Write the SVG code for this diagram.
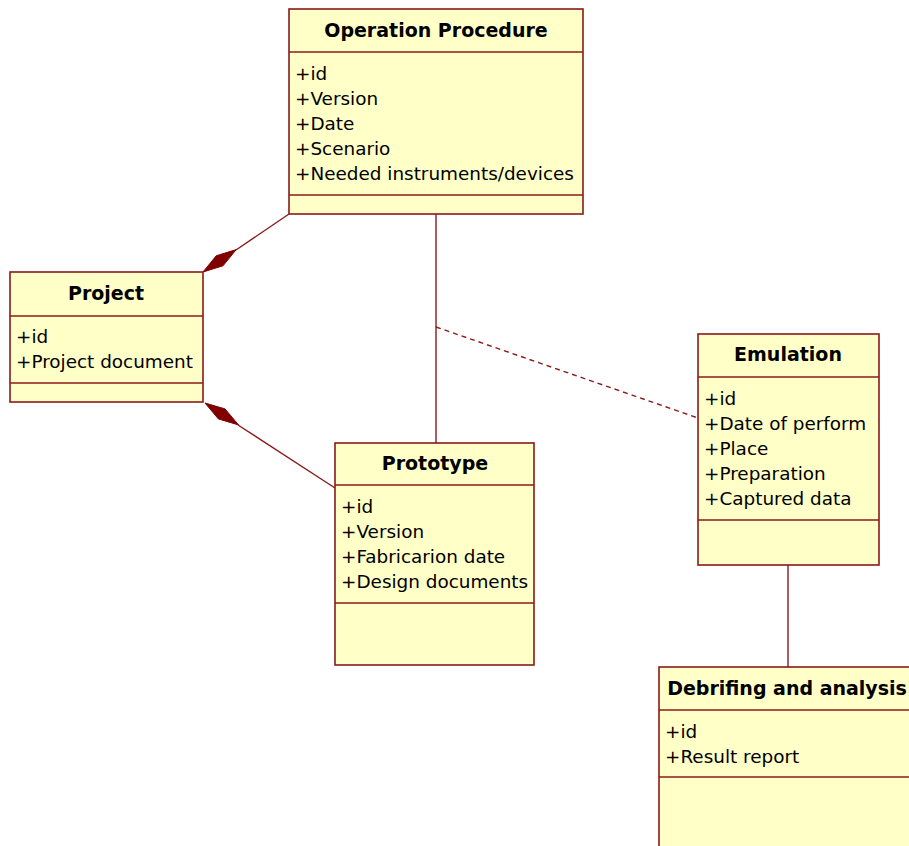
<svg xmlns="http://www.w3.org/2000/svg" width="909" height="846" viewBox="0 0 909 846">
<style>
.box{fill:#FFFFC8;stroke:#8B1A1A;stroke-width:1.6}
.sep{stroke:#8B1A1A;stroke-width:1.6}
.t{font-family:"DejaVu Sans",Verdana,sans-serif;font-size:19px;font-weight:bold;fill:#000;text-anchor:middle}
.a{font-family:"DejaVu Sans",Verdana,sans-serif;font-size:18.4px;fill:#000}
.ln{stroke:#8B1A1A;stroke-width:1.4;fill:none}
.dash{stroke:#8B1A1A;stroke-width:1.4;fill:none;stroke-dasharray:5 4}
.dia{fill:#800000;stroke:#800000;stroke-width:1}
</style>
<rect width="909" height="846" fill="#fff"/>
<g id="connectors">
<line class="ln" x1="236" y1="250" x2="289" y2="214"/>
<polygon class="dia" points="203,272 223,265.8 236.2,249.6 216.2,255.8"/>
<line class="ln" x1="238" y1="425" x2="335" y2="488"/>
<polygon class="dia" points="205,403 225,408.9 238.5,424.9 218.4,418.9"/>
<line class="ln" x1="436" y1="214" x2="436" y2="443"/>
<line class="dash" x1="436" y1="327" x2="698" y2="418"/>
<line class="ln" x1="788" y1="565" x2="788" y2="667"/>
</g>
<g id="operation-procedure">
<rect class="box" x="289" y="9" width="294" height="205"/>
<line class="sep" x1="289" y1="52" x2="583" y2="52"/>
<line class="sep" x1="289" y1="195" x2="583" y2="195"/>
<text class="t" x="436" y="37">Operation Procedure</text>
<text class="a" x="295" y="80">+id</text>
<text class="a" x="295" y="105">+Version</text>
<text class="a" x="295" y="130">+Date</text>
<text class="a" x="295" y="155">+Scenario</text>
<text class="a" x="295" y="180">+Needed instruments/devices</text>
</g>
<g id="project">
<rect class="box" x="10" y="272" width="193" height="130"/>
<line class="sep" x1="10" y1="316" x2="203" y2="316"/>
<line class="sep" x1="10" y1="383" x2="203" y2="383"/>
<text class="t" x="106" y="300">Project</text>
<text class="a" x="16" y="343">+id</text>
<text class="a" x="16" y="368">+Project document</text>
</g>
<g id="prototype">
<rect class="box" x="335" y="443" width="199" height="222"/>
<line class="sep" x1="335" y1="485" x2="534" y2="485"/>
<line class="sep" x1="335" y1="603" x2="534" y2="603"/>
<text class="t" x="435" y="470">Prototype</text>
<text class="a" x="341" y="513">+id</text>
<text class="a" x="341" y="538">+Version</text>
<text class="a" x="341" y="563">+Fabricarion date</text>
<text class="a" x="341" y="588">+Design documents</text>
</g>
<g id="emulation">
<rect class="box" x="698" y="334" width="181" height="231"/>
<line class="sep" x1="698" y1="377" x2="879" y2="377"/>
<line class="sep" x1="698" y1="520" x2="879" y2="520"/>
<text class="t" x="788" y="361">Emulation</text>
<text class="a" x="704" y="405">+id</text>
<text class="a" x="704" y="430">+Date of perform</text>
<text class="a" x="704" y="455">+Place</text>
<text class="a" x="704" y="480">+Preparation</text>
<text class="a" x="704" y="505">+Captured data</text>
</g>
<g id="debriefing">
<rect class="box" x="659" y="667" width="270" height="200"/>
<line class="sep" x1="659" y1="710" x2="929" y2="710"/>
<line class="sep" x1="659" y1="777" x2="929" y2="777"/>
<text class="t" x="787" y="695">Debrifing and analysis</text>
<text class="a" x="665" y="738">+id</text>
<text class="a" x="665" y="763">+Result report</text>
</g>
</svg>
